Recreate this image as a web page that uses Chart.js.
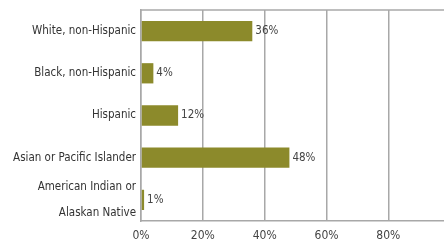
<!DOCTYPE html>
<html>
<head>
<meta charset="utf-8">
<script src="https://cdn.jsdelivr.net/npm/chart.js@4/dist/chart.umd.min.js"></script>
<style>
  html, body { margin: 0; padding: 0; background: #fff; overflow: hidden; }
  #wrap { width: 444px; height: 246px; }
</style>
</head>
<body>
<div id="wrap"><canvas id="myChart"></canvas></div>
<script>
const groups = ["White, non-Hispanic", "Black, non-Hispanic", "Hispanic", "Asian or Pacific Islander", ["American Indian or", "Alaskan Native"]];
const shares = [36, 4, 12, 48, 1];
const tickLabels = ["0%", "20%", "40%", "60%", "80%"];

const FONT = "'Liberation Sans Narrow', 'DejaVu Sans Condensed', sans-serif";

// draws the "36%" text after each bar, plus the top frame line
const barText = {
    id: 'barText',
    afterDatasetsDraw(chart) {
        const ctx = chart.ctx;
        const meta = chart.getDatasetMeta(0);
        ctx.save();
        ctx.font = "11.5px " + FONT;
        ctx.fillStyle = "#444";
        ctx.textBaseline = "middle";
        meta.data.forEach((bar, i) => {
            ctx.fillText(shares[i] + "%", bar.x + 3, bar.y);
        });
        const a = chart.chartArea;
        ctx.strokeStyle = "#a8a8a8";
        ctx.lineWidth = 1.5;
        ctx.beginPath();
        ctx.moveTo(a.left, a.top);
        ctx.lineTo(chart.width, a.top);
        ctx.stroke();
        ctx.restore();
    }
};

function init(){
    const ctx = document.getElementById("myChart");
    const data = {
        labels: groups,
        datasets: [{
            data: shares,
            backgroundColor: "#8c8a2b",
            barPercentage: 0.48,
            categoryPercentage: 1
        }]
    };
    const config = {
        type: 'bar',
        data: data,
        options: {
            indexAxis: 'y',
            responsive: true,
            maintainAspectRatio: false,
            animation: false,
            layout: { padding: { top: 10, right: 0, left: 0, bottom: 0 } },
            plugins: { legend: { display: false }, tooltip: { enabled: false } },
            scales: {
                x: {
                    min: 0,
                    max: 98,
                    ticks: {
                        stepSize: 20,
                        includeBounds: false,
                        color: "#444",
                        font: { family: FONT, size: 12 },
                        padding: 8,
                        callback: (v) => tickLabels[v / 20]
                    },
                    grid: { color: "#a8a8a8", lineWidth: 1.5, drawTicks: false },
                    border: { color: "#a8a8a8", width: 1.5 },
                    afterFit: (scale) => { scale.height = 25; }
                },
                y: {
                    ticks: {
                        autoSkip: false,
                        color: "#333",
                        font: { family: FONT, size: 11.5, lineHeight: 2.3 },
                        padding: 5
                    },
                    grid: { display: false, drawTicks: false },
                    border: { color: "#a8a8a8", width: 1.5 },
                    afterFit: (scale) => {
                        scale.width = 141;
                        scale.paddingTop = 0;
                        scale.paddingBottom = 0;
                    }
                }
            }
        },
        plugins: [barText]
    };
    new Chart(ctx, config);
}

init();
</script>
</body>
</html>
